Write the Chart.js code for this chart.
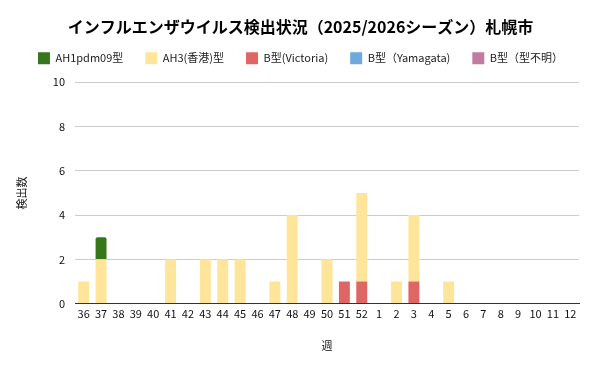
<!DOCTYPE html>
<html>
<head>
<meta charset="utf-8">
<script src="https://cdn.jsdelivr.net/npm/chart.js@4"></script>
<style>
	body { margin: 0; background: #fff; }
	#wrap { width: 601px; height: 371px; }
</style>
</head>
<body>
<div id="wrap"><canvas id="grafico" width="601" height="371"></canvas></div>
<script>
// 週ラベル
const weeks = ['36', '37', '38', '39', '40', '41', '42', '43', '44', '45', '46', '47', '48', '49', '50', '51', '52',
	'1', '2', '3', '4', '5', '6', '7', '8', '9', '10', '11', '12'];

// 型ごとの検出数
const ah1pdm09 = [0, 1, 0, 0, 0, 0, 0, 0, 0, 0, 0, 0, 0, 0, 0, 0, 0, 0, 0, 0, 0, 0, 0, 0, 0, 0, 0, 0, 0];
const ah3 = [1, 2, 0, 0, 0, 2, 0, 2, 2, 2, 0, 1, 4, 0, 2, 0, 4, 0, 1, 3, 0, 1, 0, 0, 0, 0, 0, 0, 0];
const bVictoria = [0, 0, 0, 0, 0, 0, 0, 0, 0, 0, 0, 0, 0, 0, 0, 1, 1, 0, 0, 1, 0, 0, 0, 0, 0, 0, 0, 0, 0];
const bYamagata = [0, 0, 0, 0, 0, 0, 0, 0, 0, 0, 0, 0, 0, 0, 0, 0, 0, 0, 0, 0, 0, 0, 0, 0, 0, 0, 0, 0, 0];
const bUnknown = [0, 0, 0, 0, 0, 0, 0, 0, 0, 0, 0, 0, 0, 0, 0, 0, 0, 0, 0, 0, 0, 0, 0, 0, 0, 0, 0, 0, 0];

const yTicks = [0, 2, 4, 6, 8, 10];

const fuente = '"Noto Sans CJK JP", "Noto Sans", sans-serif';

// 凡例の下に少し余白を足す
const espacioLeyenda = {
	id: 'espacioLeyenda',
	afterInit(chart) {
		const fitOriginal = chart.legend.fit;
		chart.legend.fit = function () {
			fitOriginal.apply(this, arguments);
			this.height += 8;
		};
	},
};

// 下から積む順に並べる（凡例は reverse で元の順）
var ctx = document.getElementById('grafico').getContext('2d');
var grafico = new Chart(ctx, {
	type: 'bar',
	data: {
		labels: weeks,
		datasets: [
			{ label: 'B型（型不明）', data: bUnknown, backgroundColor: '#c27ba0' },
			{ label: 'B型（Yamagata)', data: bYamagata, backgroundColor: '#6fa8dc' },
			{ label: 'B型(Victoria)', data: bVictoria, backgroundColor: '#e06666' },
			{ label: 'AH3(香港)型', data: ah3, backgroundColor: '#ffe599' },
			{ label: 'AH1pdm09型', data: ah1pdm09, backgroundColor: '#38761d', borderRadius: { topLeft: 2, topRight: 2 }, borderSkipped: 'bottom' },
		],
	},
	plugins: [espacioLeyenda],
	options: {
		responsive: false,
		animation: false,
		layout: { padding: { left: 10, right: 10, top: 4, bottom: 15 } },
		datasets: {
			bar: { categoryPercentage: 0.63, barPercentage: 1.0 },
		},
		plugins: {
			title: {
				display: true,
				text: 'インフルエンザウイルス検出状況（2025/2026シーズン）札幌市',
				color: '#000',
				font: { family: fuente, size: 16, weight: 'bold' },
				padding: { top: 13, bottom: -6 },
			},
			legend: {
				reverse: true,
				labels: {
					boxWidth: 12,
					boxHeight: 12,
					padding: 22,
					color: '#222',
					font: { family: fuente, size: 11 },
				},
			},
			tooltip: { enabled: false },
		},
		scales: {
			x: {
				stacked: true,
				grid: { display: false, drawTicks: false },
				border: { color: '#333' },
				ticks: { color: '#111', font: { family: fuente, size: 11 }, maxRotation: 0, autoSkip: false, padding: 4 },
				title: { display: true, text: '週', color: '#111', font: { family: fuente, size: 11 }, padding: { top: 14 } },
			},
			y: {
				stacked: true,
				min: 0,
				max: 10,
				afterBuildTicks: (axis) => { axis.ticks = yTicks.map((v) => ({ value: v })); },
				afterFit: (axis) => { axis.width = 65; },
				grid: { color: '#cccccc', drawTicks: false },
				border: { display: false },
				ticks: { color: '#111', font: { family: fuente, size: 11 }, padding: 10 },
				title: { display: true, text: '検出数', color: '#111', font: { family: fuente, size: 11 }, padding: { top: 5, bottom: 0 } },
			},
			// 右側の余白用（表示なし）
			margenDerecho: {
				type: 'linear',
				position: 'right',
				afterFit: (axis) => { axis.width = 12; },
				grid: { display: false },
				border: { display: false },
				ticks: { display: false },
			},
		},
	},
});
</script>
</body>
</html>
